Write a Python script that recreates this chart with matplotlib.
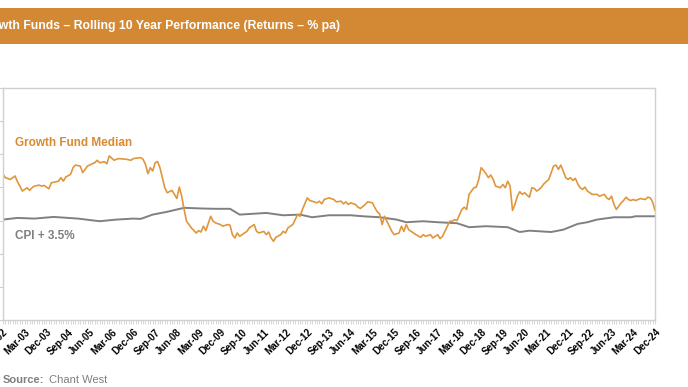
import matplotlib
matplotlib.use("Agg")
import matplotlib.pyplot as plt
import pandas as pd
from matplotlib.patches import Rectangle
from matplotlib.ticker import FixedLocator, MultipleLocator

# ---- data (months since Jun-2002, value % pa) ----
start = pd.Timestamp("2002-06-01")
n_months = 271  # Jun-02 .. Dec-24

gf_m = [0, 1, 3, 5, 6, 7, 8, 9, 10, 11, 12, 13, 15, 16, 17, 19, 20, 22, 23, 24,
        25, 26, 28, 29, 30, 32, 33, 34, 35, 37, 38, 39, 40, 42, 43, 44, 46, 47, 48, 51,
        53, 54, 55, 57, 58, 59, 60, 61, 62, 63, 64, 65, 66, 67, 68, 70, 71, 72, 73, 74,
        75, 76, 77, 78, 80, 81, 82, 83, 84, 86, 87, 88, 90, 91, 93, 94, 95, 96, 97, 98,
        99, 100, 101, 102, 104, 105, 106, 108, 109, 110, 111, 112, 113, 115, 116, 117, 118, 120, 121, 122,
        123, 124, 126, 127, 128, 130, 131, 132, 133, 135, 137, 138, 140, 141, 142, 143, 144, 146, 147, 148,
        150, 151, 153, 154, 155, 156, 157, 158, 159, 160, 161, 162, 164, 165, 166, 167, 168, 170, 171, 173,
        174, 175, 177, 178, 180, 181, 182, 183, 184, 185, 186, 187, 188, 190, 191, 192, 193, 195, 196, 197,
        198, 199, 200, 201, 202, 203, 204, 206, 207, 208, 209, 210, 211, 212, 213, 214, 215, 216, 217, 218,
        219, 220, 221, 222, 223, 224, 226, 227, 228, 229, 230, 231, 232, 233, 234, 235, 236, 237, 238, 239,
        240, 241, 242, 243, 244, 246, 247, 249, 250, 251, 252, 253, 254, 255, 256, 257, 258, 259, 260, 261,
        262, 263, 264, 266, 267, 268, 269, 270]
gf_v = [8.79, 8.59, 8.48, 8.69, 8.34, 8.08, 7.78, 7.88, 7.98, 7.82, 7.98, 8.08, 8.14, 8.08, 8.12, 7.92, 8.28, 8.34, 8.38, 8.59,
        8.38, 8.63, 8.79, 9.19, 9.35, 9.29, 8.89, 9.09, 9.29, 9.43, 9.49, 9.64, 9.49, 9.55, 9.43, 9.90, 9.64, 9.70, 9.74, 9.70,
        9.64, 9.74, 9.76, 9.80, 9.70, 9.39, 8.83, 9.19, 8.99, 9.49, 9.56, 9.19, 8.59, 7.98, 7.68, 7.82, 7.58, 7.33, 8.02, 7.47,
        6.67, 5.96, 5.76, 5.56, 5.25, 5.39, 5.31, 5.66, 5.39, 6.26, 5.96, 5.86, 5.76, 5.66, 5.76, 5.72, 5.15, 4.95, 5.25, 5.05,
        5.15, 5.25, 5.35, 5.56, 5.76, 5.35, 5.25, 5.35, 5.15, 5.31, 4.95, 4.75, 4.99, 5.15, 5.35, 5.25, 5.56, 5.76, 6.06, 6.36,
        6.26, 6.67, 7.37, 7.21, 7.17, 7.07, 7.17, 7.01, 7.27, 7.37, 7.27, 7.13, 7.17, 7.01, 7.13, 6.97, 7.07, 6.97, 6.81, 6.73,
        6.97, 7.13, 7.07, 6.77, 6.53, 6.40, 5.76, 6.26, 5.96, 5.66, 5.35, 5.15, 5.25, 5.66, 5.35, 5.76, 5.45, 5.25, 5.15, 4.99,
        5.15, 5.05, 5.15, 4.95, 5.15, 4.91, 5.05, 5.35, 5.66, 5.96, 5.96, 6.06, 6.00, 6.67, 6.81, 6.67, 7.58, 7.98, 8.02, 8.48,
        9.19, 9.03, 8.83, 8.59, 8.75, 8.48, 8.08, 7.98, 8.18, 7.98, 8.38, 8.08, 6.61, 6.97, 7.47, 7.74, 7.58, 7.68, 7.54, 7.41,
        7.98, 7.94, 7.78, 7.88, 8.02, 8.22, 8.48, 8.89, 9.29, 9.35, 9.09, 9.35, 8.99, 8.59, 8.48, 8.59, 8.42, 8.55, 8.22, 7.98,
        7.88, 8.02, 7.78, 7.68, 7.58, 7.58, 7.47, 7.58, 7.37, 7.27, 7.47, 6.97, 6.67, 6.87, 7.07, 7.21, 7.41, 7.27, 7.21, 7.27,
        7.21, 7.27, 7.33, 7.27, 7.41, 7.37, 7.13, 6.61]

cpi_m = [0, 6, 13, 21, 31, 40, 47, 54, 57, 62, 68, 75, 82, 88, 94, 98, 109, 116, 123, 128,
         135, 144, 149, 156, 163, 167, 174, 180, 188, 193, 200, 209, 214, 218, 227, 232, 238, 242, 246, 253,
         260, 262, 270]
cpi_v = [6.06, 6.16, 6.12, 6.22, 6.12, 5.96, 6.06, 6.12, 6.10, 6.36, 6.53, 6.77, 6.73, 6.71, 6.71, 6.36, 6.46, 6.32, 6.36, 6.20,
         6.32, 6.32, 6.26, 6.20, 6.06, 5.90, 5.96, 5.90, 5.84, 5.60, 5.66, 5.60, 5.31, 5.39, 5.31, 5.45, 5.80, 5.90, 6.06, 6.20,
         6.20, 6.26, 6.26]

y_ticks = [0, 2, 4, 6, 8, 10, 12, 14]
label_step = 9
title = "Growth Funds \u2013 Rolling 10 Year Performance (Returns \u2013 % pa)"
visible_title_part = "wth Funds \u2013 Rolling 10 Year Performance (Returns \u2013 % pa)"
gf_label = "Growth Fund Median"
cpi_label = "CPI + 3.5%"

# ---- style ----
W, H = 688, 387
orange = "#E0963C"
orange_text = "#DA8A30"
bar_col = "#D38934"
gray_line = "#808080"
gray_text = "#7F7F7F"
frame = "#D0D0D0"
plt.rcParams['font.family'] = ['Liberation Sans', 'DejaVu Sans']

fig = plt.figure(figsize=(W / 100, H / 100), dpi=100)
renderer = fig.canvas.get_renderer()

def fx(px):
    return px / W

def fy(py):
    return 1 - py / H

# title bar
fig.patches.append(Rectangle((0, fy(44)), 1, 36 / H, transform=fig.transFigure,
                             facecolor=bar_col, edgecolor="none", zorder=0))
# size the title so the visible part spans 0..340 px as in the reference
probe = fig.text(0, 0, visible_title_part, fontsize=10, fontweight="bold")
pw = probe.get_window_extent(renderer).width
probe.remove()
title_size = 10 * 340 / pw
fig.text(fx(340), fy(26), title, ha="right", va="center", color="white",
         fontsize=title_size, fontweight="bold")

# axes
left, right, top, bottom = 3, 655, 88, 320
ax = fig.add_axes([fx(left), fy(bottom), (right - left) / W, (bottom - top) / H])
ax.plot(cpi_m, cpi_v, color=gray_line, lw=1.4, solid_joinstyle="round")
ax.plot(gf_m, gf_v, color=orange, lw=1.2, solid_joinstyle="round")

ax.set_xlim(0, n_months - 1)
ax.set_ylim(y_ticks[0], y_ticks[-1])
ax.set_yticks(y_ticks)
ax.set_yticklabels([])
ax.tick_params(axis="y", length=3, color=frame, width=0.8)

major = list(range(0, n_months, label_step))
labels = [(start + pd.DateOffset(months=m)).strftime("%b-%y") for m in major]
ax.xaxis.set_major_locator(FixedLocator(major))
ax.set_xticklabels(labels, rotation=45, ha="right", rotation_mode="anchor",
                   fontsize=7, fontweight="bold")
ax.xaxis.set_minor_locator(MultipleLocator(1))
ax.tick_params(axis="x", which="both", length=3, color=frame, width=0.6, pad=2)
for s in ax.spines.values():
    s.set_color(frame)
    s.set_linewidth(1.0)

# annotations
fig.text(fx(15), fy(143), gf_label, ha="left", va="center", color=orange_text,
         fontsize=8.5, fontweight="bold")
fig.text(fx(15), fy(236), cpi_label, ha="left", va="center", color=gray_text,
         fontsize=8.5, fontweight="bold")

# source
fig.text(fx(3), fy(380), "Source:", ha="left", va="center", color=gray_text,
         fontsize=8, fontweight="bold")
fig.text(fx(49), fy(380), "Chant West", ha="left", va="center", color=gray_text,
         fontsize=8)

fig.savefig("out.png", dpi=100)
